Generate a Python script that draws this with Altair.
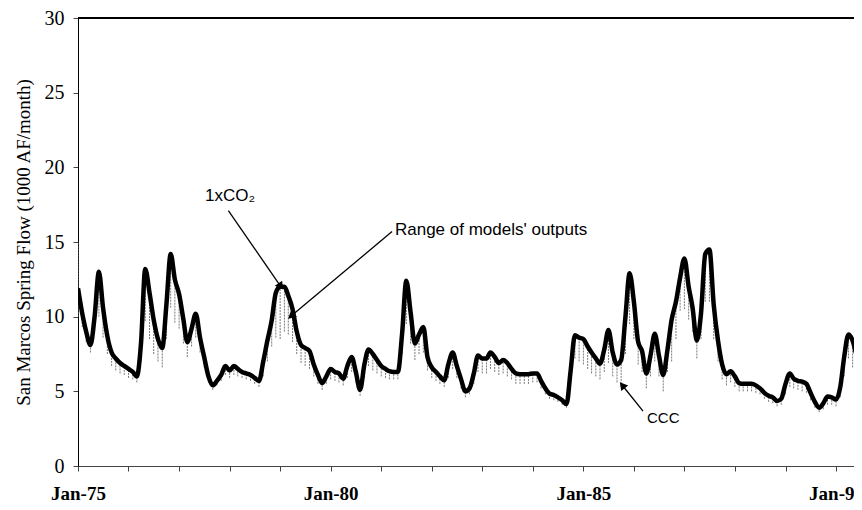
import altair as alt
import pandas as pd

# Monthly simulated San Marcos spring flow, 1xCO2 run (1000 AF/month), from Jan-1975
flow_1xco2 = [
    11.9, 10.2, 9.0, 8.1, 10.0, 13.0, 10.6, 8.7, 7.6, 7.2, 6.9, 6.7,      # 1975
    6.5, 6.3, 6.0, 8.3, 13.2, 11.6, 9.8, 8.5, 7.9, 10.8, 14.2, 12.5,      # 1976
    11.5, 9.8, 8.3, 9.2, 10.2, 8.6, 7.3, 6.0, 5.4, 5.7, 6.1, 6.7,         # 1977
    6.4, 6.7, 6.5, 6.3, 6.2, 6.1, 5.9, 5.7, 7.0, 8.4, 9.75, 11.6,         # 1978
    12.0, 12.0, 11.4, 10.5, 9.0, 8.1, 7.9, 7.7, 6.8, 6.1, 5.55, 6.0,      # 1979
    6.5, 6.3, 6.2, 5.85, 6.7, 7.3, 6.3, 5.1, 6.8, 7.8, 7.5, 7.1,          # 1980
    6.7, 6.5, 6.35, 6.3, 6.3, 8.9, 12.4, 10.3, 8.2, 8.8, 9.3, 7.3,        # 1981
    6.6, 6.3, 6.0, 5.75, 6.8, 7.6, 6.7, 5.8, 5.0, 5.2, 6.2, 7.4,          # 1982
    7.2, 7.2, 7.6, 7.3, 6.9, 7.1, 6.9, 6.5, 6.2, 6.15, 6.15, 6.15,        # 1983
    6.2, 6.2, 5.7, 5.2, 4.85, 4.75, 4.6, 4.4, 4.15, 6.4, 8.75, 8.6,       # 1984
    8.5, 8.0, 7.6, 7.2, 6.85, 7.8, 9.1, 7.6, 6.8, 7.1, 10.0, 12.9,        # 1985
    11.0, 8.3, 7.7, 6.2, 7.4, 8.85, 7.4, 6.1, 7.8, 9.8, 11.0, 12.6,       # 1986
    13.9, 12.0, 10.6, 8.4, 10.2, 14.2, 14.5, 10.8, 8.4, 6.8, 6.15, 6.35,  # 1987
    6.0, 5.55, 5.5, 5.5, 5.5, 5.4, 5.2, 4.9, 4.7, 4.6, 4.35, 4.5,         # 1988
    5.5, 6.2, 5.85, 5.7, 5.65, 5.5, 4.9, 4.3, 3.9, 4.2, 4.65, 4.6,        # 1989
    4.45, 5.3, 7.3, 8.8, 8.4, 7.4, 7.2,                                   # 1990
]

# Lower end of the range of the models' outputs for each month
range_low = [
    10.0, 9.3, 8.3, 7.6, 9.0, 10.0, 8.6, 7.5, 6.7, 6.4, 6.2, 6.1,
    5.9, 5.8, 5.6, 7.0, 9.7, 8.5, 7.5, 7.0, 6.6, 8.5, 10.6, 9.6,
    9.2, 8.2, 7.3, 8.0, 8.6, 7.6, 6.6, 5.6, 5.1, 5.4, 5.7, 6.1,
    5.9, 6.1, 6.0, 5.9, 5.8, 5.7, 5.5, 5.3, 6.0, 7.0, 8.0, 8.6,
    8.5, 9.0, 8.8, 8.3, 7.5, 6.9, 6.7, 6.5, 6.0, 5.5, 5.1, 5.5,
    5.8, 5.7, 5.6, 5.4, 5.9, 6.3, 5.6, 4.7, 5.9, 6.7, 6.4, 6.2,
    6.0, 5.9, 5.8, 5.8, 5.8, 7.5, 9.5, 8.2, 7.1, 7.5, 7.6, 6.4,
    5.9, 5.7, 5.5, 5.3, 5.9, 6.5, 5.9, 5.2, 4.6, 4.8, 5.5, 6.3,
    6.2, 6.2, 6.5, 6.3, 6.1, 6.2, 6.0, 5.8, 5.5, 5.5, 5.5, 5.5,
    5.6, 5.6, 5.2, 4.8, 4.5, 4.4, 4.3, 4.1, 3.9, 5.5, 7.2, 7.0,
    6.8, 6.5, 6.2, 6.0, 5.8, 6.3, 6.9, 6.0, 5.6, 5.3, 7.5, 9.5,
    8.5, 6.8, 6.3, 5.2, 6.0, 7.0, 6.0, 5.0, 6.3, 7.0, 8.5, 10.4,
    10.5, 9.8, 9.0, 7.2, 8.5, 11.0, 11.0, 8.5, 7.0, 5.8, 5.4, 5.6,
    5.3, 5.0, 5.0, 5.0, 5.0, 4.9, 4.8, 4.5, 4.3, 4.2, 4.0, 4.1,
    4.8, 5.3, 5.2, 5.1, 5.0, 4.9, 4.4, 3.9, 3.6, 3.8, 4.1, 4.1,
    4.0, 4.6, 6.0, 7.2, 6.6, 5.9, 5.8,
]
# Upper end of the range where it rises above the 1xCO2 line (month index -> value)
range_high_extra = {0: 15.0}

# Annotations (text labels, arrow start/end)
ann_text = ["1xCO\u2082", "Range of models' outputs", "CCC"]
ann_text_x = ["1978-01-04", "1981-04-10", "1986-04-06"]
ann_text_y = [18.1, 15.83, 3.2]
ann_text_align = ["center", "left", "left"]
ann_text_size = [17, 17, 15]
arrow_x1 = ["1977-12-23", "1981-03-20", "1986-03-08"]
arrow_y1 = [17.1, 15.7, 3.67]
arrow_x2 = ["1978-12-31", "1979-03-28", "1985-10-15"]
arrow_y2 = [12.1, 10.09, 5.34]
arrow_angle = [145, 230, 321]

x_domain = ["1975-01-01", "1990-05-11"]
year_ticks = [f"{y}-01-01" for y in range(1975, 1991)]

dates = pd.date_range("1975-01-01", periods=len(flow_1xco2), freq="MS")
df = pd.DataFrame({
    "date": dates,
    "flow": flow_1xco2,
    "low": range_low,
    "high": [max(v, range_high_extra.get(i, v)) for i, v in enumerate(flow_1xco2)],
})

ann_df = pd.DataFrame({"text": ann_text, "x": ann_text_x, "y": ann_text_y,
                       "align": ann_text_align, "size": ann_text_size})
arr_df = pd.DataFrame({"x1": arrow_x1, "y1": arrow_y1, "x2": arrow_x2, "y2": arrow_y2, "angle": arrow_angle})

W, H = 776, 448

xscale = alt.Scale(domain=x_domain)
yscale = alt.Scale(domain=[0, 30], nice=False)

x_axis = alt.Axis(
    values=year_ticks,
    labelExpr="year(datum.value) % 5 == 0 ? timeFormat(datum.value, '%b-%y') : ''",
    title=None, grid=False, tickSize=5, tickColor="#444", domainColor="#444",
    labelFont="Liberation Serif", labelFontSize=19, labelFontWeight="bold",
    labelColor="black", labelPadding=13, labelOverlap=False, labelFlush=False,
)
y_axis = alt.Axis(
    values=[0, 5, 10, 15, 20, 25, 30], title="San Marcos Spring Flow (1000 AF/month)",
    grid=False, tickSize=5, tickColor="#444", domainColor="black",
    labelFont="Liberation Serif", labelFontSize=20, labelColor="black", labelPadding=9,
    titleFont="Liberation Serif", titleFontSize=19, titleFontWeight="normal",
    titleColor="black", titlePadding=11,
)

rng = alt.Chart(df).mark_rule(color="#7a7a7a", strokeWidth=1, strokeDash=[2, 1], clip=True).encode(
    x=alt.X("date:T", scale=xscale, axis=x_axis),
    y=alt.Y("low:Q", scale=yscale, axis=y_axis),
    y2="high:Q",
)

line = alt.Chart(df).mark_line(color="black", strokeWidth=4.5, interpolate="monotone", clip=True).encode(
    x=alt.X("date:T", scale=xscale),
    y=alt.Y("flow:Q", scale=yscale),
)

top_border = alt.Chart(df).mark_rule(color="black", strokeWidth=1).encode(
    x=alt.value(0), x2=alt.value(W), y=alt.value(0)
)

arrows = alt.Chart(arr_df).mark_rule(color="black", strokeWidth=1.3).encode(
    x=alt.X("x1:T", scale=xscale), y=alt.Y("y1:Q", scale=yscale),
    x2="x2:T", y2="y2:Q",
)
heads = alt.Chart(arr_df).mark_point(shape="triangle", filled=True, color="black", size=80, opacity=1).encode(
    x=alt.X("x2:T", scale=xscale), y=alt.Y("y2:Q", scale=yscale),
    angle=alt.Angle("angle:Q", scale=None),
)
labels_left = alt.Chart(ann_df[ann_df["align"] == "left"]).mark_text(
    font="Liberation Sans", color="black", align="left", baseline="middle"
).encode(x=alt.X("x:T", scale=xscale), y=alt.Y("y:Q", scale=yscale), text="text:N",
         size=alt.Size("size:Q", scale=None, legend=None))
labels_center = alt.Chart(ann_df[ann_df["align"] == "center"]).mark_text(
    font="Liberation Sans", color="black", align="center", baseline="middle"
).encode(x=alt.X("x:T", scale=xscale), y=alt.Y("y:Q", scale=yscale), text="text:N",
         size=alt.Size("size:Q", scale=None, legend=None))

chart = alt.layer(rng, line, top_border, arrows, heads, labels_left, labels_center).properties(
    width=W, height=H,
    autosize=alt.AutoSizeParams(type="none"),
    padding={"left": 70, "top": 10, "right": 0, "bottom": 44},
).configure_view(stroke=None).configure(background="white")

chart.save("out.html", embed_options={"renderer": "svg", "actions": False})
